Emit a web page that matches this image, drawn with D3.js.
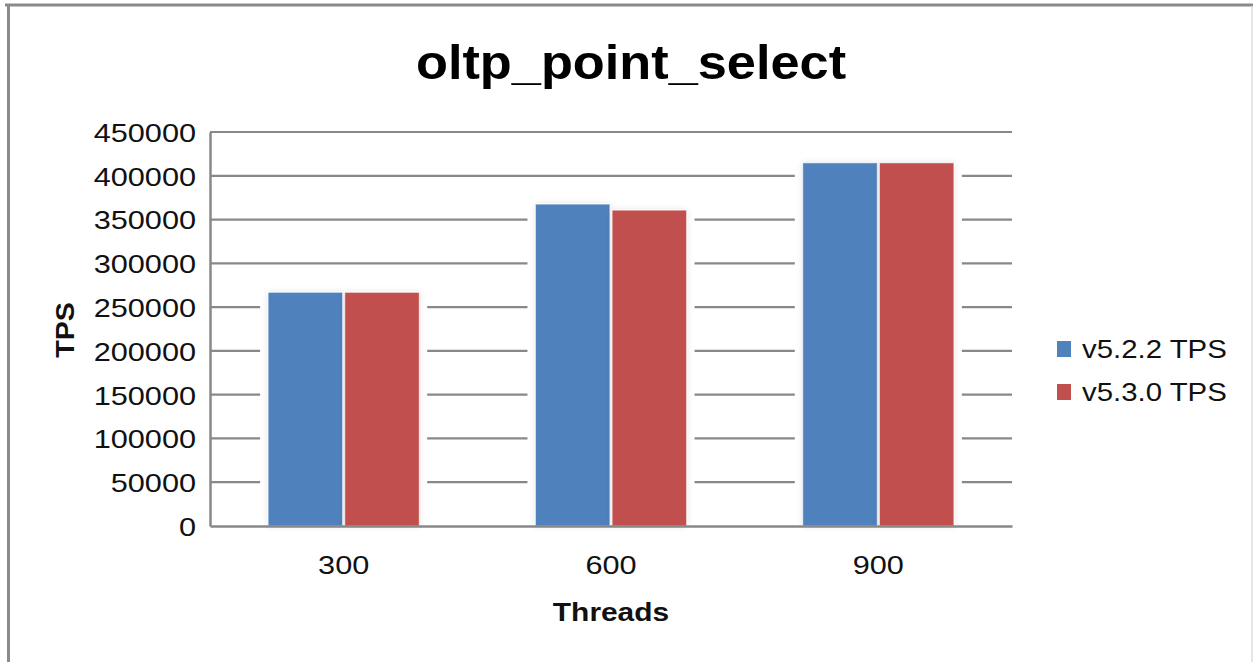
<!DOCTYPE html>
<html><head><meta charset="utf-8">
<script src="https://cdn.jsdelivr.net/npm/d3@7"></script>
<style>body{margin:0;background:#fff}svg{display:block;font-family:"Liberation Sans",Arial,sans-serif}</style>
</head><body><svg id="c" width="1253" height="662"></svg>
<script>
const title = "oltp_point_select";
const categories = ["300", "600", "900"];
const seriesNames = ["v5.2.2 TPS", "v5.3.0 TPS"];
const v522 = [266800, 367600, 414700];
const v530 = [266800, 360700, 414700];
const yTicks = [0, 50000, 100000, 150000, 200000, 250000, 300000, 350000, 400000, 450000];
const colors = ["#4f81bd", "#c0504d"];
const xTitle = "Threads", yTitle = "TPS";

const svg = d3.select("#c");
const W = 1253, H = 662;
const m = {l: 210, r: 1012, t: 132, b: 526};
const SX = 1.18;

// frame
svg.append("line").attr("x1",5).attr("x2",W).attr("y1",5).attr("y2",5).attr("stroke","#8a8a8a").attr("stroke-width",3);
svg.append("line").attr("x1",8.5).attr("x2",8.5).attr("y1",4).attr("y2",H).attr("stroke","#8a8a8a").attr("stroke-width",3);
svg.append("line").attr("x1",1252).attr("x2",1252).attr("y1",6).attr("y2",H).attr("stroke","#dcdcdc").attr("stroke-width",1.5);

const defs = svg.append("defs");
const f = defs.append("filter").attr("id","sh").attr("x","-20%").attr("y","-10%").attr("width","140%").attr("height","120%");
f.append("feGaussianBlur").attr("in","SourceAlpha").attr("stdDeviation",3).attr("result","b");
f.append("feFlood").attr("flood-color","#000").attr("flood-opacity",0.12);
f.append("feComposite").attr("in2","b").attr("operator","in").attr("result","s");
const mg = f.append("feMerge"); mg.append("feMergeNode").attr("in","s"); mg.append("feMergeNode").attr("in","SourceGraphic");

const x = d3.scaleBand().domain(categories).range([m.l, m.r]).paddingInner(0.435).paddingOuter(0.2175);
const x1 = d3.scaleBand().domain(seriesNames).range([0, x.bandwidth()]).paddingInner(0.03);
const y = d3.scaleLinear().domain([0, 450000]).range([m.b, m.t]);

// gridlines
svg.append("g").selectAll("line").data(yTicks.filter(d=>d>0)).join("line")
  .attr("x1", m.l).attr("x2", m.r).attr("y1", d=>y(d)).attr("y2", d=>y(d))
  .attr("stroke","#888").attr("stroke-width",2.2);

const data = [v522, v530];
const groups = svg.append("g").selectAll("g").data(categories).join("g")
  .attr("transform", c=>`translate(${x(c)},0)`);
groups.append("rect").attr("x",-8).attr("width",x.bandwidth()+16)
  .attr("y",(c,i)=>y(Math.max(v522[i],v530[i]))-4).attr("height",(c,i)=>m.b - y(Math.max(v522[i],v530[i]))+4)
  .attr("fill","#fff");
groups.selectAll("rect.bar").data((c,i)=>seriesNames.map((s,j)=>({s, v:data[j][i], j}))).join("rect")
  .attr("class","bar")
  .attr("x", d=>x1(d.s)).attr("width", x1.bandwidth())
  .attr("y", d=>y(d.v)).attr("height", d=>m.b - y(d.v))
  .attr("fill", d=>colors[d.j]).attr("stroke","rgba(255,255,255,0.5)").attr("stroke-width",1)
  .attr("filter","url(#sh)");

// axes
const ya = svg.append("g").attr("transform",`translate(${m.l},0)`)
  .call(d3.axisLeft(y).tickValues(yTicks).tickSize(0).tickPadding(14).tickFormat(d3.format("d")));
ya.select(".domain").attr("stroke","#888").attr("stroke-width",2.5);
ya.selectAll("text").attr("font-size",26).attr("fill","#111").attr("font-family","Liberation Sans, Arial, sans-serif")
  .attr("x", -14/SX).attr("transform",`scale(${SX},1)`).attr("dy","0.36em");
const xa = svg.append("g").attr("transform",`translate(0,${m.b})`)
  .call(d3.axisBottom(x).tickSize(0).tickPadding(39));
xa.select(".domain").attr("stroke","#888").attr("stroke-width",2.5);
xa.selectAll("text").attr("font-size",26).attr("fill","#111").attr("font-family","Liberation Sans, Arial, sans-serif")
  .attr("dy","0.36em").attr("transform",`scale(${SX},1)`);

// titles
svg.append("text").attr("transform","translate(631,79) scale(1.09,1)").attr("text-anchor","middle")
  .attr("font-size",48).attr("font-weight","bold").attr("fill","#000").text(title);
svg.append("text").attr("transform","translate(611,621) scale(1.15,1)").attr("text-anchor","middle")
  .attr("font-size",26).attr("font-weight","bold").attr("fill","#111").text(xTitle);
svg.append("text").attr("transform","translate(74,330) rotate(-90) scale(1.1,1)").attr("text-anchor","middle")
  .attr("font-size",26).attr("font-weight","bold").attr("fill","#111").text(yTitle);

// legend
const lg = svg.append("g").selectAll("g").data(seriesNames).join("g")
  .attr("transform",(d,i)=>`translate(1057,${341 + i*43})`);
lg.append("rect").attr("width",14).attr("height",16).attr("fill",(d,i)=>colors[i]);
lg.append("text").attr("transform","translate(25,8) scale(1.13,1)").attr("dy","0.36em").attr("font-size",26).attr("fill","#111").text(d=>d);
</script></body></html>
